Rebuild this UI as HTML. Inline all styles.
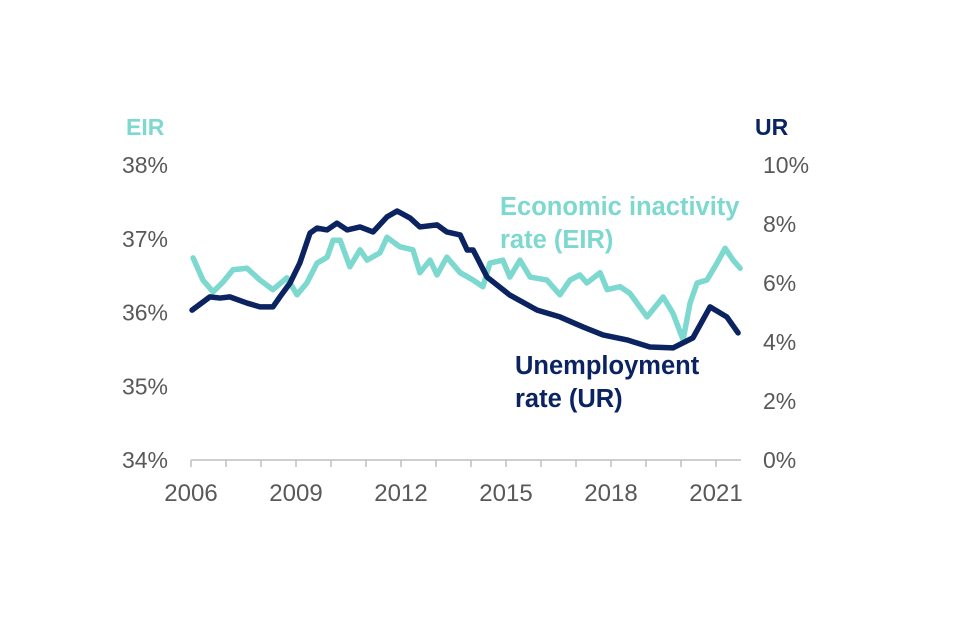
<!DOCTYPE html>
<html><head><meta charset="utf-8"><style>
html,body{margin:0;padding:0;background:#fff;}
svg{display:block;font-family:"Liberation Sans",Arial,sans-serif;}
</style></head><body>
<svg id="chart" width="960" height="640" viewBox="0 0 960 640">
<text x="126" y="135" font-size="23" font-weight="bold" fill="#7dd8d0">EIR</text>
<text x="755" y="135" font-size="23" font-weight="bold" fill="#0b2461">UR</text>
<g id="axes"></g>
<g id="series"></g>
<text x="500" y="215" font-size="25.5" font-weight="bold" fill="#7dd8d0">Economic inactivity</text>
<text x="500" y="248" font-size="25.5" font-weight="bold" fill="#7dd8d0">rate (EIR)</text>
<text x="515" y="374" font-size="25.5" font-weight="bold" fill="#0b2461">Unemployment</text>
<text x="515" y="407" font-size="25.5" font-weight="bold" fill="#0b2461">rate (UR)</text>
</svg>
<script>
const leftTicks=[34,35,36,37,38];
const rightTicks=[0,2,4,6,8,10];
const yearLabels=[2006,2009,2012,2015,2018,2021];
const urYears=[2006.03,2006.54,2006.83,2007.11,2007.6,2007.97,2008.34,2008.54,2008.83,2009.11,2009.4,2009.6,2009.89,2010.17,2010.46,2010.83,2011.2,2011.6,2011.89,2012.26,2012.54,2013.03,2013.31,2013.69,2013.89,2014.06,2014.46,2015.11,2015.89,2016.54,2017.2,2017.77,2018.46,2019.11,2019.77,2020.34,2020.83,2021.31,2021.63];
const urValues=[5.08,5.53,5.49,5.53,5.32,5.19,5.19,5.53,6.0,6.68,7.69,7.86,7.80,8.03,7.80,7.90,7.73,8.24,8.44,8.20,7.90,7.97,7.73,7.63,7.12,7.12,6.20,5.59,5.08,4.85,4.51,4.24,4.07,3.83,3.80,4.14,5.19,4.85,4.31];
const eirYears=[2006.06,2006.34,2006.63,2006.91,2007.2,2007.6,2007.97,2008.34,2008.74,2009.03,2009.31,2009.6,2009.89,2010.06,2010.26,2010.54,2010.83,2011.03,2011.4,2011.6,2011.97,2012.34,2012.54,2012.83,2013.03,2013.31,2013.69,2014.06,2014.34,2014.54,2014.91,2015.11,2015.4,2015.69,2016.17,2016.54,2016.83,2017.11,2017.31,2017.69,2017.89,2018.26,2018.54,2019.03,2019.49,2019.77,2020.06,2020.26,2020.46,2020.74,2021.03,2021.26,2021.49,2021.69];
const eirValues=[36.74,36.44,36.28,36.41,36.58,36.60,36.44,36.31,36.47,36.24,36.40,36.67,36.75,36.98,36.98,36.62,36.85,36.71,36.81,37.02,36.89,36.85,36.54,36.71,36.51,36.75,36.54,36.44,36.35,36.67,36.71,36.48,36.71,36.48,36.44,36.24,36.44,36.51,36.40,36.54,36.31,36.35,36.26,35.94,36.21,35.99,35.63,36.13,36.40,36.44,36.67,36.87,36.71,36.60];
const NS="http://www.w3.org/2000/svg";
const X=y=>191+(y-2006)*35;
const YL=v=>165+(38-v)*73.75;
const YR=v=>165+(10-v)*29.5;
const axes=document.getElementById('axes'), series=document.getElementById('series');
function mk(t,a,p){const e=document.createElementNS(NS,t);for(const k in a)e.setAttribute(k,a[k]);p.appendChild(e);return e;}
const base=mk('line',{x1:191,x2:741,y1:460,y2:460,stroke:'#bfbfbf','stroke-width':1.5},axes);


for(let y=2006;y<=2021;y++){const t=mk('line',{x1:X(y),x2:X(y),y1:460,y2:467,stroke:'#bfbfbf','stroke-width':1.5},axes);

}
yearLabels.forEach(y=>{const t=mk('text',{x:X(y),y:501,'text-anchor':'middle','font-size':24,fill:'#595959'},axes);t.textContent=y;

});
leftTicks.forEach(v=>{const t=mk('text',{x:168,y:YL(v)+8,'text-anchor':'end','font-size':23,fill:'#595959'},axes);t.textContent=v+'%';

});
rightTicks.forEach(v=>{const t=mk('text',{x:763,y:YR(v)+8,'text-anchor':'start','font-size':23,fill:'#595959'},axes);t.textContent=v+'%';

});
const e=mk('polyline',{points:eirYears.map((y,i)=>X(y)+','+YL(eirValues[i])).join(' '),fill:'none',stroke:'#7dd8d0','stroke-width':5.5,'stroke-linejoin':'round','stroke-linecap':'round'},series);


const u=mk('polyline',{points:urYears.map((y,i)=>X(y)+','+YR(urValues[i])).join(' '),fill:'none',stroke:'#0b2461','stroke-width':5.5,'stroke-linejoin':'round','stroke-linecap':'round'},series);


</script>
</body></html>
